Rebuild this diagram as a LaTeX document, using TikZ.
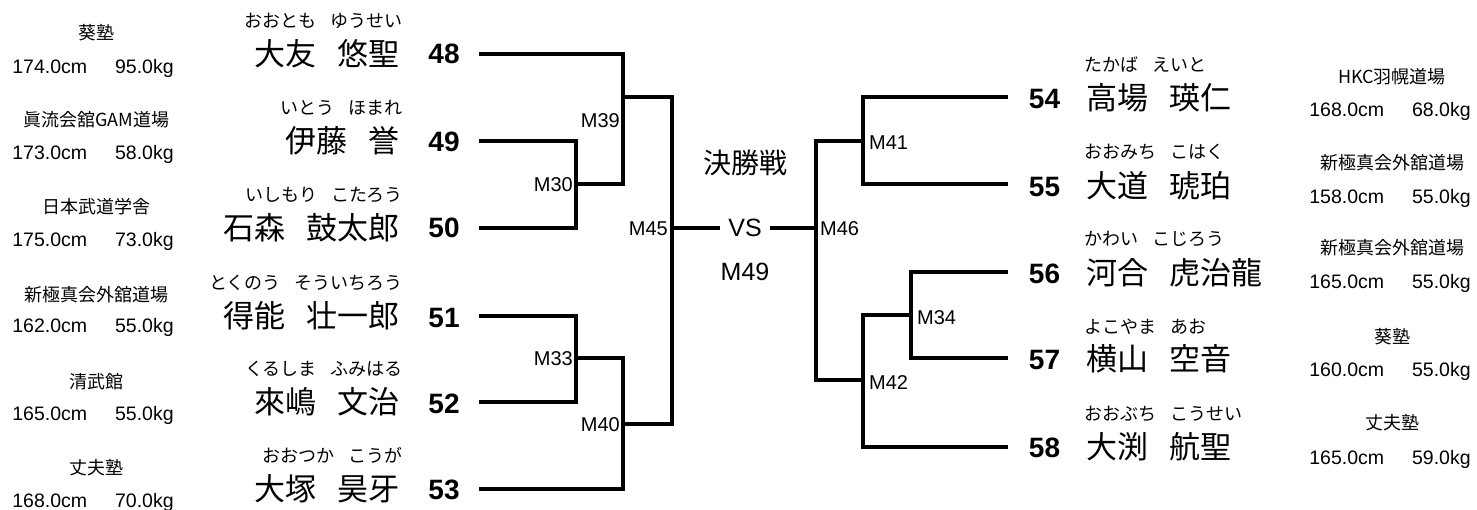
\documentclass[tikz,border=0pt]{standalone}
\usepackage{fontspec}
\setmainfont{Liberation Sans}
\newfontfamily\cjk{Noto Sans CJK JP}
\newcommand\nmgap{\hspace{21pt}}
\newcommand\fggap{\hspace{14pt}}
\newcommand\ifgap{\hspace{28pt}}
\begin{document}
\begin{tikzpicture}[x=1pt,y=-1pt]
\tikzset{
  br/.style={line width=3.3pt, line cap=butt, line join=miter},
  nm/.style={font=\cjk\fontsize{31}{33}\selectfont, inner sep=0pt, text height=27.3pt, text depth=3.7pt},
  fg/.style={font=\cjk\fontsize{18}{20}\selectfont, inner sep=0pt, text height=15.8pt, text depth=2.2pt},
  dj/.style={font=\cjk\fontsize{18}{20}\selectfont, inner sep=0pt, text height=15.8pt, text depth=2.2pt},
  num/.style={font=\bfseries\fontsize{28}{30}\selectfont, inner sep=0pt, text height=20pt, text depth=0pt},
  info/.style={font=\fontsize{19.5}{21}\selectfont, inner sep=0pt, text height=14pt, text depth=0pt},
  ml/.style={font=\fontsize{20}{22}\selectfont, inner sep=0pt, text height=14.3pt, text depth=0pt},
  big/.style={font=\fontsize{25}{27}\selectfont, inner sep=0pt, text height=17.9pt, text depth=0pt},
  fin/.style={font=\cjk\fontsize{28}{30}\selectfont, inner sep=0pt, text height=24.6pt, text depth=3.4pt},
}
\fill[white] (0,0) rectangle (1477,510);
\useasboundingbox (0,0) rectangle (1477,510);

% ---------- left players ----------
\node[fg,anchor=east] (f48) at (403,21) {おおとも\fggap ゆうせい};
\node[nm,anchor=east] (n48) at (400,54) {大友\nmgap 悠聖};
\node[num] (k48) at (444,54) {48};
\node[dj] (d48) at (96.5,33) {葵塾};
\node[info] (i48) at (93,67) {174.0cm\ifgap 95.0kg};

\node[fg,anchor=east] (f49) at (403,108) {いとう\fggap ほまれ};
\node[nm,anchor=east] (n49) at (400,141) {伊藤\nmgap 誉};
\node[num] (k49) at (444,142) {49};
\node[dj] (d49) at (96.5,120) {眞流会舘GAM道場};
\node[info] (i49) at (93,153) {173.0cm\ifgap 58.0kg};

\node[fg,anchor=east] (f50) at (403,195) {いしもり\fggap こたろう};
\node[nm,anchor=east] (n50) at (400,228) {石森\nmgap 鼓太郎};
\node[num] (k50) at (444,228) {50};
\node[dj] (d50) at (96.5,207) {日本武道学舎};
\node[info] (i50) at (93,240) {175.0cm\ifgap 73.0kg};

\node[fg,anchor=east] (f51) at (403,283) {とくのう\fggap そういちろう};
\node[nm,anchor=east] (n51) at (400,316) {得能\nmgap 壮一郎};
\node[num] (k51) at (444,317) {51};
\node[dj] (d51) at (96.5,295) {新極真会外舘道場};
\node[info] (i51) at (93,326) {162.0cm\ifgap 55.0kg};

\node[fg,anchor=east] (f52) at (403,369) {くるしま\fggap ふみはる};
\node[nm,anchor=east] (n52) at (400,402) {來嶋\nmgap 文治};
\node[num] (k52) at (444,403) {52};
\node[dj] (d52) at (96.5,382) {清武館};
\node[info] (i52) at (93,413) {165.0cm\ifgap 55.0kg};

\node[fg,anchor=east] (f53) at (403,456) {おおつか\fggap こうが};
\node[nm,anchor=east] (n53) at (400,489) {大塚\nmgap 昊牙};
\node[num] (k53) at (444,489) {53};
\node[dj] (d53) at (96.5,468) {丈夫塾};
\node[info] (i53) at (93,500) {168.0cm\ifgap 70.0kg};

% ---------- right players ----------
\node[fg,anchor=west] (f54) at (1084,65) {たかば\fggap えいと};
\node[nm,anchor=west] (n54) at (1086,98) {高場\nmgap 瑛仁};
\node[num] (k54) at (1044.5,99) {54};
\node[dj] (d54) at (1392,77) {HKC羽幌道場};
\node[info] (i54) at (1390,110) {168.0cm\ifgap 68.0kg};

\node[fg,anchor=west] (f55) at (1084,152) {おおみち\fggap こはく};
\node[nm,anchor=west] (n55) at (1086,186) {大道\nmgap 琥珀};
\node[num] (k55) at (1044.5,187) {55};
\node[dj] (d55) at (1392,163) {新極真会外舘道場};
\node[info] (i55) at (1390,197) {158.0cm\ifgap 55.0kg};

\node[fg,anchor=west] (f56) at (1084,239) {かわい\fggap こじろう};
\node[nm,anchor=west] (n56) at (1086,273) {河合\nmgap 虎治龍};
\node[num] (k56) at (1044.5,274) {56};
\node[dj] (d56) at (1392,248) {新極真会外舘道場};
\node[info] (i56) at (1390,282) {165.0cm\ifgap 55.0kg};

\node[fg,anchor=west] (f57) at (1084,327) {よこやま\fggap あお};
\node[nm,anchor=west] (n57) at (1086,359) {横山\nmgap 空音};
\node[num] (k57) at (1044.5,360) {57};
\node[dj] (d57) at (1392,337) {葵塾};
\node[info] (i57) at (1390,370) {160.0cm\ifgap 55.0kg};

\node[fg,anchor=west] (f58) at (1084,414) {おおぶち\fggap こうせい};
\node[nm,anchor=west] (n58) at (1086,447) {大渕\nmgap 航聖};
\node[num] (k58) at (1044.5,447) {58};
\node[dj] (d58) at (1392,423) {丈夫塾};
\node[info] (i58) at (1390,457) {165.0cm\ifgap 59.0kg};

% ---------- centre ----------
\node[fin] (fin) at (745,163) {決勝戦};
\node[big,inner xsep=8pt] (vs) at (745,228) {VS};
\node[big] (m49) at (745,272) {M49};

% ---------- bracket points ----------
\coordinate (e48) at (479,54);
\coordinate (e49) at (479,141);
\coordinate (e50) at (479,228);
\coordinate (e51) at (479,316);
\coordinate (e52) at (479,402);
\coordinate (e53) at (479,489);
\coordinate (j30) at (576,184);
\coordinate (j39) at (623,97);
\coordinate (j33) at (576,358);
\coordinate (j40) at (623,424);
\coordinate (j45) at (672,228);
\coordinate (j46) at (816,228);
\coordinate (j41) at (863,141);
\coordinate (j42) at (863,380);
\coordinate (j34) at (911,315);
\coordinate (e54) at (1008,97);
\coordinate (e55) at (1008,184);
\coordinate (e56) at (1008,272);
\coordinate (e57) at (1008,358);
\coordinate (e58) at (1008,447);

\draw[br] (e48) -| (j39 |- j30) -- (j30);
\draw[br] (e49) -| (j30) |- (e50);
\draw[br] (j39) -| (j45) |- (j40);
\draw[br] (e51) -| (j33) |- (e52);
\draw[br] (j33) -| (j40) |- (e53);
\draw[br] (j45) -- (vs.west);
\draw[br] (vs.east) -- (j46);
\draw[br] (e54) -| (j41) |- (e55);
\draw[br] (j41) -| (j46) |- (j42);
\draw[br] (e56) -| (j34) |- (e57);
\draw[br] (j34) -| (j42) |- (e58);

% ---------- match labels ----------
\node[ml,anchor=east] (l39) at (620,120) {M39};
\node[ml,anchor=east] (l30) at (573,184) {M30};
\node[ml,anchor=east] (l45) at (668,228) {M45};
\node[ml,anchor=east] (l33) at (573,358) {M33};
\node[ml,anchor=east] (l40) at (620,424) {M40};
\node[ml,anchor=west] (l46) at (820,228) {M46};
\node[ml,anchor=west] (l41) at (869,142) {M41};
\node[ml,anchor=west] (l34) at (917,317) {M34};
\node[ml,anchor=west] (l42) at (869,382) {M42};
\end{tikzpicture}
\end{document}
